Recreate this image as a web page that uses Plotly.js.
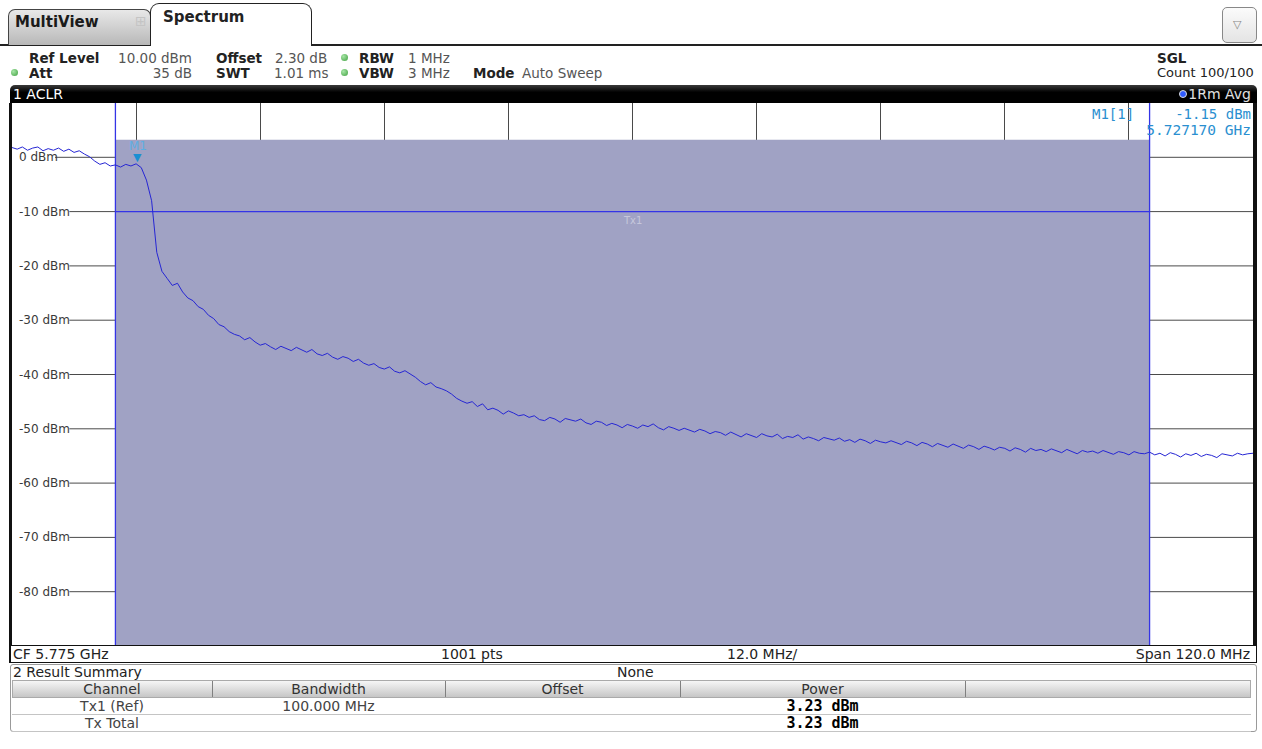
<!DOCTYPE html>
<html><head><meta charset="utf-8">
<script src="https://cdn.plot.ly/plotly-3.0.1.min.js"></script>
<style>
html,body{margin:0;padding:0;}
body{width:1262px;height:749px;overflow:hidden;background:#fff;position:relative;font-family:"DejaVu Sans",Verdana,sans-serif;color:#222;}
#plot{position:absolute;left:0;top:0;width:1262px;height:749px;}
.t{position:absolute;white-space:nowrap;line-height:16px;height:16px;}
.b{font-weight:bold;}
.g{color:#555;}
.r{text-align:right;}
.dot{position:absolute;width:7px;height:7px;border-radius:50%;background:radial-gradient(circle at 35% 35%,#a6e6a6,#3f9f3f);}
.box{position:absolute;box-sizing:border-box;}
</style></head><body>
<div id="plot"></div>

<!-- tabs -->
<div class="box" style="left:0;top:44px;width:151px;height:1.5px;background:#222"></div>
<div class="box" style="left:311px;top:44px;width:951px;height:1.5px;background:#222"></div>
<div class="box" style="left:8px;top:9px;width:143px;height:36px;border:1px solid #444;border-bottom:none;border-radius:7px 7px 0 0;background:linear-gradient(#e8e8e8,#b8b8b8);"></div>
<div class="t b" style="left:15px;top:14px;font-size:15px;color:#1a1a1a;">MultiView</div>
<div class="t" style="left:135px;top:13px;font-size:14px;color:#c4c4c4;">⊞</div>
<div class="box" style="left:150px;top:3px;width:162px;height:43px;border:1.5px solid #222;border-bottom:none;border-radius:9px 9px 0 0;background:#fff;"></div>
<div class="t b" style="left:163px;top:9px;font-size:15px;">Spectrum</div>
<div class="box" style="left:1222px;top:7px;width:35px;height:36px;border:1px solid #888;border-radius:5px;background:linear-gradient(#fbfbfb,#e4e4e4);"></div>
<div class="t" style="left:1233px;top:17px;font-size:11px;color:#888;">▽</div>

<!-- header -->
<div id="hdr"></div>

<!-- diagram frame -->
<div class="box" style="left:10px;top:85px;width:1247px;height:18px;background:linear-gradient(#3a3a3a,#000 40%);border-radius:5px 5px 0 0;"></div>
<div class="t" style="left:13px;top:86px;font-size:14px;color:#fff;">1 ACLR</div>
<div class="box" style="left:1179px;top:90px;width:8px;height:8px;border-radius:50%;background:#2f5bff;border:1px solid #ddd;"></div>
<div class="t r" style="left:1150px;width:101px;top:86px;font-size:14px;color:#e0e0e0;">1Rm Avg</div>
<div class="box" style="left:9px;top:103px;width:3px;height:560px;background:#111;"></div>
<div class="box" style="left:1253px;top:103px;width:4px;height:560px;background:#111;"></div>
<div class="box" style="left:10px;top:645px;width:1247px;height:18px;border:1.5px solid #111;background:#fff;"></div>
<div class="t" style="left:13px;top:646px;font-size:14px;">CF 5.775 GHz</div>
<div class="t" style="left:441px;top:646px;font-size:14px;">1001 pts</div>
<div class="t" style="left:727px;top:646px;font-size:14px;">12.0 MHz/</div>
<div class="t r" style="left:1100px;width:150px;top:646px;font-size:14px;">Span 120.0 MHz</div>
<div id="mk"></div>

<!-- result summary -->
<div class="box" style="left:10px;top:664px;width:1247px;height:68px;border:1px solid #9a9a9a;border-radius:3px;background:#fff;"></div>
<div class="t" style="left:13px;top:664px;font-size:14px;">2 Result Summary</div>
<div class="t" style="left:617px;top:664px;font-size:14px;">None</div>
<div class="box" style="left:12px;top:680px;width:1239px;height:18px;border:1px solid #aaa;background:linear-gradient(#f6f6f6,#c6c6c6);"></div>
<div id="tbl"></div>

<script>
// ---------------- data ----------------
const freqStartMHz = 5715;
const freqStepMHz = 0.5;
const levelDbm = [
  1.8, 1.5, 1.9, 1.3, 1.7, 1.9, 1.2, 1.6, 1.3, 1.7,
  1.1, 1.5, 0.9, 1.2, 0.6, 0.1, -0.7, -1.3, -1.0, -1.6,
  -1.4, -1.8, -1.3, -1.6, -1.2, -1.9, -4.2, -8.0, -17.5, -21.0,
  -22.3, -23.6, -23.2, -24.8, -25.9, -26.4, -27.5, -28.0, -29.1, -29.7,
  -30.8, -31.2, -32.1, -32.6, -32.9, -33.6, -33.2, -34.0, -34.6, -34.3,
  -34.9, -35.4, -34.8, -35.2, -35.6, -35.0, -35.5, -35.9, -35.4, -36.2,
  -36.5, -36.1, -36.8, -37.2, -36.7, -37.0, -37.6, -37.2, -37.9, -38.3,
  -38.0, -38.7, -39.0, -38.6, -39.4, -39.7, -39.3, -39.9, -40.5, -41.3,
  -41.9, -41.5, -42.3, -42.6, -43.0, -43.6, -44.4, -44.9, -45.3, -45.0,
  -45.9, -45.4, -46.5, -46.2, -46.6, -47.3, -46.7, -47.1, -47.6, -47.4,
  -47.9, -47.6, -48.3, -48.5, -47.9, -48.2, -48.8, -48.1, -48.4, -48.6,
  -48.2, -48.9, -49.2, -48.6, -48.8, -49.4, -49.0, -49.3, -49.8, -49.2,
  -49.5, -49.9, -49.3, -49.6, -49.1, -49.8, -50.2, -49.6, -49.9, -50.3,
  -49.9, -50.2, -50.6, -50.1, -50.4, -50.9, -50.5, -50.7, -51.2, -50.6,
  -51.0, -51.5, -50.9, -51.2, -51.6, -50.9, -51.3, -51.5, -51.0, -51.8,
  -51.4, -51.6, -51.1, -51.9, -51.5, -51.8, -52.2, -51.6, -51.9, -52.1,
  -51.7, -52.3, -52.0, -52.5, -51.9, -52.2, -52.7, -52.1, -52.4, -52.6,
  -52.2, -52.5, -52.9, -52.3, -52.6, -53.1, -52.5, -52.8, -53.3, -52.7,
  -53.0, -53.4, -52.8, -53.2, -53.6, -53.0, -53.3, -53.8, -53.2, -53.5,
  -53.9, -53.4, -53.6, -54.1, -53.5, -53.8, -54.3, -53.6, -54.0, -53.8,
  -54.2, -53.7, -54.1, -54.4, -53.8, -54.2, -54.6, -54.0, -54.3, -54.1,
  -54.5, -54.0, -54.3, -54.7, -54.2, -54.4, -54.8, -54.2, -54.5, -54.6,
  -54.3, -54.8, -54.5, -55.0, -54.4, -54.7, -55.2, -54.6, -54.9, -54.5,
  -55.1, -54.7, -54.9, -55.3, -54.6, -54.8, -55.0, -54.5, -54.8, -54.6,
  -54.5
];
const spanMHz = [5715, 5835];
const refLevelDbm = 10;
const bottomDbm = -90;
const yTickVals = [0, -10, -20, -30, -40, -50, -60, -70, -80];
const yTickLabels = ["0 dBm", "-10 dBm", "-20 dBm", "-30 dBm", "-40 dBm", "-50 dBm", "-60 dBm", "-70 dBm", "-80 dBm"];
const xDivMHz = 12;
const chanName = ["Tx1"];
const chanLimitsMHz = [5725, 5825];
const chanPowerDbm = [3.23];
const displayLineDbm = [-10];
const markerName = ["M1"];
const markerFreqGHz = [5.727170];
const markerLevelDbm = [-1.15];
const tblHeaders = ["Channel", "Bandwidth", "Offset", "Power", ""];
const tblChannels = ["Tx1 (Ref)", "Tx Total"];
const tblBandwidths = ["100.000 MHz", ""];
const tblOffsets = ["", ""];
const tblPowers = ["3.23 dBm", "3.23 dBm"];

// ---------------- header text ----------------
const hdrItems = [
  {x:29, y:50, t:"Ref Level", c:"t b"},
  {x:92, y:50, w:100, t:"10.00 dBm", c:"t g r"},
  {x:216, y:50, t:"Offset", c:"t b"},
  {x:275, y:50, t:"2.30 dB", c:"t g"},
  {x:359, y:50, t:"RBW", c:"t b"},
  {x:408, y:50, t:"1 MHz", c:"t g"},
  {x:29, y:65, t:"Att", c:"t b"},
  {x:92, y:65, w:100, t:"35 dB", c:"t g r"},
  {x:216, y:65, t:"SWT", c:"t b"},
  {x:274, y:65, t:"1.01 ms", c:"t g"},
  {x:359, y:65, t:"VBW", c:"t b"},
  {x:408, y:65, t:"3 MHz", c:"t g"},
  {x:473, y:65, t:"Mode", c:"t b"},
  {x:522, y:65, t:"Auto Sweep", c:"t g"},
  {x:1157, y:50, t:"SGL", c:"t b"},
  {x:1157, y:65, t:"Count 100/100", c:"t", fs:13}
];
let h = "";
hdrItems.forEach(d => {
  h += `<div class="${d.c}" style="left:${d.x}px;top:${d.y}px;${d.w?'width:'+d.w+'px;':''}font-size:${d.fs||13.5}px;">${d.t}</div>`;
});
[[341,54],[11,69],[341,69]].forEach(p => { h += `<div class="dot" style="left:${p[0]}px;top:${p[1]}px"></div>`; });
document.getElementById("hdr").innerHTML = h;

// marker readout
const mkColor = "#2a8fd0";
document.getElementById("mk").innerHTML =
  `<div class="t" style="left:1092px;top:106px;font-size:14px;color:${mkColor};font-family:'DejaVu Sans Mono';">${markerName[0]}[1]</div>` +
  `<div class="t r" style="left:1100px;width:151px;top:106px;font-size:14px;color:${mkColor};font-family:'DejaVu Sans Mono';">${markerLevelDbm[0].toFixed(2)} dBm</div>` +
  `<div class="t r" style="left:1080px;width:171px;top:122px;font-size:14.5px;color:${mkColor};font-family:'DejaVu Sans Mono';">${markerFreqGHz[0].toFixed(6)} GHz</div>`;

// result table
const colEdges = [12, 212, 445, 680, 965, 1251];
let tb = "";
for (let i = 1; i < colEdges.length - 1; i++) {
  tb += `<div class="box" style="left:${colEdges[i]}px;top:681px;width:1px;height:16px;background:#808080"></div>`;
}
tblHeaders.forEach((t, i) => {
  tb += `<div class="t" style="left:${colEdges[i]}px;width:${colEdges[i+1]-colEdges[i]}px;text-align:center;top:681px;font-size:14px;color:#333">${t}</div>`;
});
const rowTops = [698, 715];
tblChannels.forEach((ch, r) => {
  const y = rowTops[r];
  const cells = [ch, tblBandwidths[r], tblOffsets[r], tblPowers[r]];
  cells.forEach((t, i) => {
    const bold = i === 3;
    tb += `<div class="t" style="left:${colEdges[i]}px;width:${colEdges[i+1]-colEdges[i]}px;text-align:center;top:${y}px;font-size:${bold?15:14}px;${bold?"font-weight:bold;font-family:'DejaVu Sans Mono';color:#000;":"color:#444;"}">${t}</div>`;
  });
  tb += `<div class="box" style="left:12px;top:${y+16}px;width:1239px;height:1px;background:#c4c4c4"></div>`;
});
document.getElementById("tbl").innerHTML = tb;

// ---------------- plot ----------------
const freqMHz = levelDbm.map((_, i) => freqStartMHz + i * freqStepMHz);
const W = 1262, H = 749, ml = 12, mr = 9, mt = 103, mb = 103;
const plotW = W - ml - mr;

const traceBlue = "#2626d4";
const lineBlue = "#3434e6";
const traces = [
  { // channel shading up to measured channel power
    x: [chanLimitsMHz[0], chanLimitsMHz[1], chanLimitsMHz[1], chanLimitsMHz[0], chanLimitsMHz[0]],
    y: [bottomDbm, bottomDbm, chanPowerDbm[0], chanPowerDbm[0], bottomDbm],
    type: "scatter", mode: "lines", fill: "toself", fillcolor: "#a0a2c4",
    line: {width: 0}, hoverinfo: "skip"
  },
  { // display line within channel
    x: chanLimitsMHz, y: [displayLineDbm[0], displayLineDbm[0]],
    type: "scatter", mode: "lines", line: {color: lineBlue, width: 1.3}, hoverinfo: "skip"
  },
  { x: [chanLimitsMHz[0], chanLimitsMHz[0]], y: [bottomDbm, refLevelDbm],
    type: "scatter", mode: "lines", line: {color: lineBlue, width: 1.3}, hoverinfo: "skip" },
  { x: [chanLimitsMHz[1], chanLimitsMHz[1]], y: [bottomDbm, refLevelDbm],
    type: "scatter", mode: "lines", line: {color: lineBlue, width: 1.3}, hoverinfo: "skip" },
  { // spectrum trace
    x: freqMHz, y: levelDbm, type: "scatter", mode: "lines",
    line: {color: traceBlue, width: 1}, hoverinfo: "skip"
  }
];

const shapes = yTickVals.map((v, i) => ({
  type: "line", xref: "paper", yref: "y",
  x0: (5 + yTickLabels[i].length * 7.2 + 2) / plotW, x1: 1,
  y0: v, y1: v, line: {color: "#4a4a4a", width: 1}, layer: "below"
}));

const annotations = yTickVals.map((v, i) => ({
  xref: "paper", yref: "y", x: 5 / plotW, y: v, xanchor: "left", yanchor: "middle",
  text: yTickLabels[i], showarrow: false, font: {family: "DejaVu Sans", size: 12, color: "#3a3a3a"}
}));
annotations.push({
  xref: "x", yref: "y", x: (chanLimitsMHz[0] + chanLimitsMHz[1]) / 2, y: displayLineDbm[0],
  yanchor: "top", yshift: -1, text: chanName[0], showarrow: false,
  font: {family: "DejaVu Sans", size: 10, color: "#c6c7dc"}
});
annotations.push({
  xref: "x", yref: "y", x: markerFreqGHz[0] * 1000, y: markerLevelDbm[0],
  yanchor: "bottom", yshift: -2, text: "▼", showarrow: false,
  font: {family: "DejaVu Sans", size: 11, color: "#1b8fd2"}
});
annotations.push({
  xref: "x", yref: "y", x: markerFreqGHz[0] * 1000, y: markerLevelDbm[0],
  yanchor: "bottom", yshift: 9, text: markerName[0], showarrow: false,
  font: {family: "DejaVu Sans", size: 12, color: "#5eaee2"}
});

const layout = {
  width: W, height: H,
  margin: {l: ml, r: mr, t: mt, b: mb, pad: 0},
  paper_bgcolor: "rgba(0,0,0,0)", plot_bgcolor: "#ffffff",
  showlegend: false,
  xaxis: {range: spanMHz, tick0: spanMHz[0], dtick: xDivMHz, showgrid: true, gridcolor: "#4a4a4a", gridwidth: 1,
          showticklabels: false, zeroline: false, showline: false, ticks: "", fixedrange: true},
  yaxis: {range: [bottomDbm, refLevelDbm], showgrid: false, showticklabels: false, zeroline: false,
          showline: false, ticks: "", fixedrange: true},
  shapes: shapes,
  annotations: annotations
};
Plotly.newPlot("plot", traces, layout, {displayModeBar: false, staticPlot: true});
</script>
</body></html>
